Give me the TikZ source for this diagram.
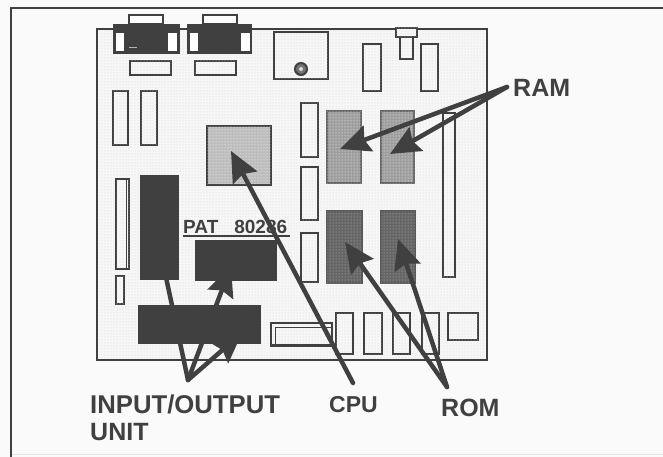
\documentclass[tikz,border=0pt]{standalone}
\usepackage{fontspec}
\setmainfont{Liberation Sans}
\usetikzlibrary{arrows.meta,positioning,patterns}
\definecolor{inkgray}{gray}{0.25}
\tikzset{
  every node/.style={font=\fontsize{25}{28}\selectfont\bfseries, text=inkgray, inner sep=0pt},
  outline/.style={draw=inkgray, line width=1.9pt},
  socket/.style={outline, fill=black!3, postaction={pattern=dots, pattern color=black!18}},
  lightchip/.style={outline, line width=1.6pt, fill=black!26, postaction={pattern=dots, pattern color=white}},
  midchip/.style={draw=black!60, line width=1.6pt, fill=black!38, postaction={pattern=dots, pattern color=white}},
  darkchip/.style={draw=black!65, line width=1.2pt, fill=black!60, postaction={pattern=dots, pattern color=black!25}},
  blackpart/.style={fill=black!75, draw=black!75},
  pointer/.style={draw=inkgray, line width=4.5pt, line cap=round, -{Stealth[length=30pt, width=27pt, inset=4pt]}}
}
\begin{document}
\begin{tikzpicture}[x=1pt, y=-1pt]
  \useasboundingbox (0,0) rectangle (663,457);
  \fill[white!98!black] (0,0) rectangle (663,457);
  % frame
  \draw[black!10, line width=1pt] (11,454) -- (663,454);
  \draw[inkgray, line width=1.6pt] (663,8) -- (11,8) -- (11,457);
  % board
  \draw[outline, fill=black!3] (97,29) rectangle (487,360);
  \fill[pattern=dots, pattern color=black!18] (99,31) rectangle (485,358);
  % video connectors
  \draw[outline, fill=white] (129,15) rectangle (163,24);
  \draw[outline, fill=white] (203,15) rectangle (237,24);
  \draw[blackpart] (113,24) rectangle (179,53);
  \draw[blackpart] (187,24) rectangle (251,53);
  \draw[outline, fill=white] (115,32) rectangle (125,52);
  \draw[outline, fill=white] (167,32) rectangle (178,52);
  \draw[outline, fill=white] (189,32) rectangle (199,52);
  \draw[outline, fill=white] (240,32) rectangle (251,52);
  \fill[black!30] (129,47) rectangle (137,48.5);
  % upper sockets
  \draw[socket] (130,61) rectangle (171,75);
  \draw[socket] (195,61) rectangle (236,75);
  \draw[socket] (274,32) rectangle (328,79);
  \draw[inkgray, line width=2pt, fill=black!55] (301,69) circle (6);
  \fill[black!15] (301,69) circle (2);
  \draw[socket] (113,91) rectangle (128,145);
  \draw[socket] (141,91) rectangle (157,145);
  \draw[socket] (363,44) rectangle (381,91);
  \draw[socket] (421,44) rectangle (438,91);
  \draw[socket, line width=1.2pt] (396,28) rectangle (417,37);
  \draw[socket] (400,37) rectangle (413,59);
  % middle sockets
  \draw[socket] (301,103) rectangle (318,157);
  \draw[socket] (301,167) rectangle (318,220);
  \draw[socket] (301,233) rectangle (318,282);
  \draw[socket] (443,113) rectangle (455,277);
  \draw[socket] (116,179) rectangle (129,269);
  \draw[inkgray, line width=1pt] (126,179) -- (126,269);
  \draw[socket] (116,276) rectangle (124,304);
  % chips
  \draw[lightchip] (207,126) rectangle (271,185);
  \draw[midchip] (327,111) rectangle (361,183);
  \draw[midchip] (381,111) rectangle (414,183);
  \draw[darkchip] (327,211) rectangle (362,283);
  \draw[darkchip] (381,211) rectangle (415,283);
  \draw[blackpart] (140,175) rectangle (178,279);
  \draw[blackpart] (195,240) rectangle (276,280);
  \draw[blackpart] (138,305) rectangle (260,343);
  % bottom sockets
  \draw[socket, line width=1.4pt] (271,323) rectangle (332,346);
  \draw[inkgray, line width=1pt] (275,346) -- (275,327) -- (332,327);
  \draw[inkgray, line width=3pt] (271,345) -- (332,345);
  \draw[socket] (336,313) rectangle (353,354);
  \draw[socket] (364,313) rectangle (382,354);
  \draw[socket] (393,313) rectangle (410,354);
  \draw[socket] (422,313) rectangle (439,354);
  \draw[socket] (448,313) rectangle (478,340);
  % labels
  \node[font=\fontsize{19}{21}\selectfont\bfseries, anchor=west] (patlabel) at (183,227) {PAT\hspace{16pt}80286};
  \draw[inkgray, line width=1.2pt] (183,236) -- (290,236);
  \node[anchor=west] (ramlabel) at (513,88) {RAM};
  \node[anchor=west, font=\fontsize{23}{26}\selectfont\bfseries] (cpulabel) at (329,405) {CPU};
  \node[anchor=west] (romlabel) at (441,408) {ROM};
  \node[anchor=west, font=\fontsize{25.7}{28}\selectfont\bfseries] (iolabel) at (90,404) {INPUT/OUTPUT};
  \node[anchor=west] (unitlabel) at (90,432) {UNIT};
  % pointers
  \coordinate (ramfoot) at (507,87);
  \coordinate (cpufoot) at (353,383);
  \coordinate (romfoot) at (447,387);
  \coordinate (iofoot) at (188,380);
  \coordinate (ramtipa) at (340,149);
  \coordinate (ramtipb) at (390,154);
  \coordinate (cputip) at (231,151);
  \coordinate (romtipa) at (345,242);
  \coordinate (romtipb) at (398,239);
  \coordinate (iotipa) at (158,240);
  \coordinate (iotipb) at (231,266);
  \coordinate (iotipc) at (242,333);
  \draw[pointer] (ramfoot) -- (ramtipa);
  \draw[pointer] (ramfoot) -- (ramtipb);
  \draw[pointer] (cpufoot) -- (cputip);
  \draw[pointer] (romfoot) -- (romtipa);
  \draw[pointer] (romfoot) -- (romtipb);
  \draw[pointer] (iofoot) -- (iotipa);
  \draw[pointer] (iofoot) -- (iotipb);
  \draw[pointer] (iofoot) -- (iotipc);
\end{tikzpicture}
\end{document}
